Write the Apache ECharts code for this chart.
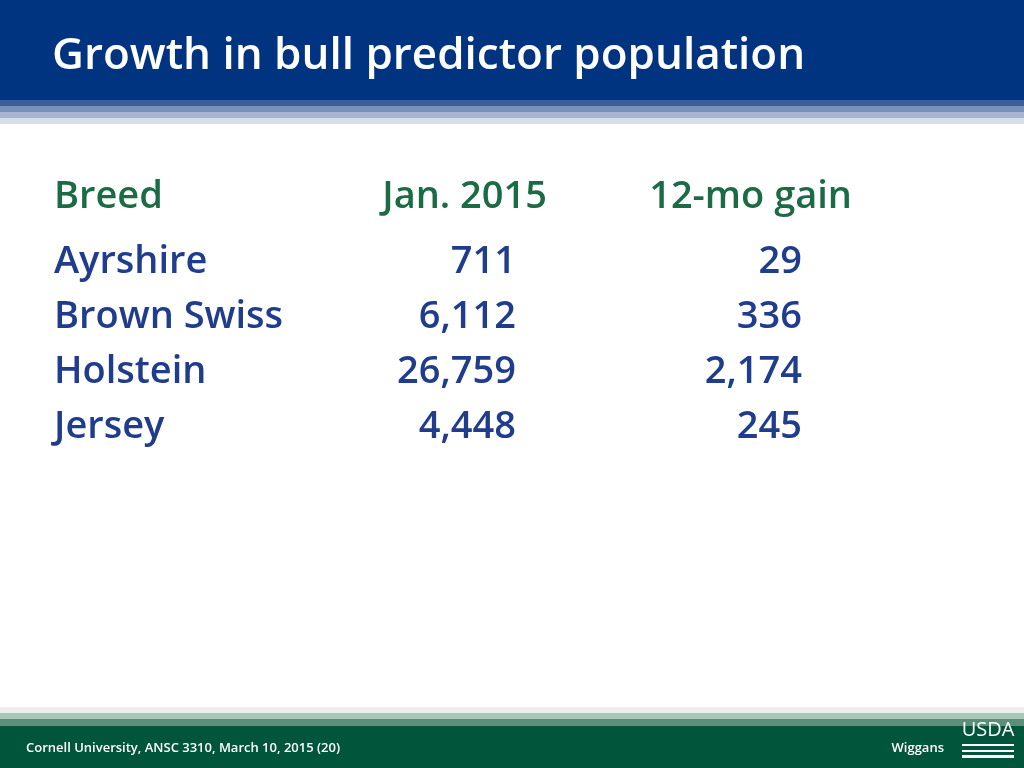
<!DOCTYPE html>
<html><head><meta charset="utf-8">
<script src="https://cdn.jsdelivr.net/npm/echarts@6/dist/echarts.min.js"></script>
<style>html,body{margin:0;padding:0;}#main{width:1024px;height:768px;}</style>
</head><body><div id="main"></div>
<script>
var title = 'Growth in bull predictor population';
var headers = ['Breed', 'Jan. 2015', '12-mo gain'];
var breeds = ['Ayrshire', 'Brown Swiss', 'Holstein', 'Jersey'];
var jan2015 = [711, 6112, 26759, 4448];
var gain12mo = [29, 336, 2174, 245];
var footerLeft = 'Cornell University, ANSC 3310, March 10, 2015 (20)';
var footerRight = 'Wiggans';

var font = '"Open Sans", Lato, sans-serif';
var fmt = function (v) { return v.toLocaleString('en-US'); };
var g = [];
function rect(x, y, w, h, c) { g.push({ type: 'rect', shape: { x: x, y: y, width: w, height: h }, style: { fill: c } }); }
function text(t, x, y, size, c, align, weight) {
    g.push({ type: 'text', x: x, y: y, style: { text: t, fill: c, font: (weight || 'bold') + ' ' + size + 'px ' + font, textAlign: align || 'left', textVerticalAlign: 'middle' } });
}
// header band
rect(0, 0, 1024, 100, '#003380');
rect(0, 100, 1024, 6, '#3f5d98');
rect(0, 106, 1024, 6, '#7a90b6');
rect(0, 112, 1024, 6, '#a7b5d1');
rect(0, 118, 1024, 6, '#d6dee8');
text(title, 52, 56, 44, '#ffffff', 'left', '600');
// footer band
rect(0, 707, 1024, 6, '#eeeeee');
rect(0, 713, 1024, 6, '#a8c8bb');
rect(0, 719, 1024, 7, '#5a8f7a');
rect(0, 726, 1024, 42, '#00553a');
text(footerLeft, 26, 748, 13, '#ffffff', 'left', '600');
text(footerRight, 944, 748, 13, '#ffffff', 'right', '600');
text('USDA', 988, 730, 20, '#ffffff', 'center', 'normal');
rect(962, 744, 52, 2, '#ffffff');
rect(962, 750, 52, 2, '#ffffff');
rect(962, 755, 52, 3, '#ffffff');
// table
text(headers[0], 54, 197, 38, '#1b6b45', 'left', '600');
text(headers[1], 547, 197, 38, '#1b6b45', 'right', '600');
text(headers[2], 852, 197, 38, '#1b6b45', 'right', '600');
breeds.forEach(function (b, i) {
    var y = 262 + i * 55;
    text(b, 54, y, 38, '#1f3d8c', 'left', '600');
    text(fmt(jan2015[i]), 516, y, 38, '#1f3d8c', 'right', '600');
    text(fmt(gain12mo[i]), 802, y, 38, '#1f3d8c', 'right', '600');
});
var chart = echarts.init(document.getElementById('main'));
chart.setOption({ backgroundColor: '#ffffff', graphic: g });
</script></body></html>
